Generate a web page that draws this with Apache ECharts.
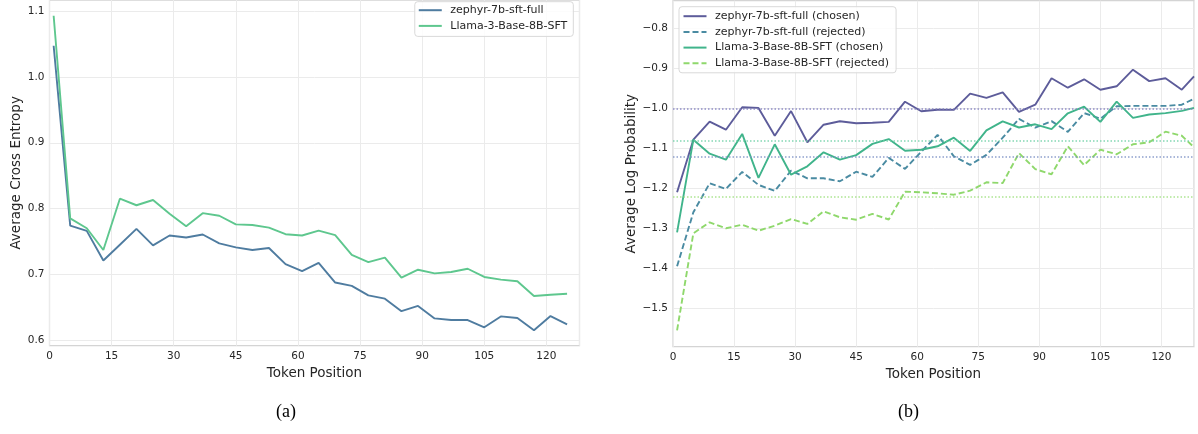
<!DOCTYPE html>
<html>
<head>
<meta charset="utf-8">
<script src="https://cdn.jsdelivr.net/npm/echarts@6/dist/echarts.min.js"></script>
<style>
html,body{margin:0;padding:0;background:#fff;}
#c{width:1198px;height:434px;}
</style>
</head>
<body>
<div id="c"></div>
<script>
// ---- data ----
const leftTokens = [1,5,9,13,17,21,25,29,33,37,41,45,49,53,57,61,65,69,73,77,81,85,89,93,97,101,105,109,113,117,121,125];
const zephyrCE = [1.0475,0.774,0.766,0.721,0.745,0.769,0.744,0.759,0.756,0.7605,0.747,0.741,0.737,0.740,0.7155,0.705,0.7175,0.6875,0.6825,0.668,0.663,0.644,0.652,0.633,0.6305,0.6305,0.6195,0.636,0.6335,0.615,0.6365,0.624];
const llamaCE = [1.093,0.785,0.770,0.737,0.815,0.805,0.813,0.792,0.773,0.793,0.789,0.776,0.775,0.771,0.761,0.759,0.7665,0.7595,0.7295,0.7185,0.7255,0.695,0.707,0.7015,0.7035,0.7085,0.696,0.692,0.6895,0.667,0.669,0.6705];

const rightTokens = [1,5,9,13,17,21,25,29,33,37,41,45,49,53,57,61,65,69,73,77,81,85,89,93,97,101,105,109,113,117,121,125,128];
const zephyrChosen = [-1.21,-1.0785,-1.0335,-1.0535,-0.9975,-0.999,-1.0685,-1.007,-1.085,-1.041,-1.0325,-1.0375,-1.036,-1.034,-0.9835,-1.0075,-1.0035,-1.004,-0.9635,-0.974,-0.96,-1.009,-0.991,-0.925,-0.9485,-0.9275,-0.9535,-0.945,-0.9035,-0.932,-0.925,-0.9535,-0.92];
const zephyrRejected = [-1.395,-1.26,-1.1875,-1.2015,-1.159,-1.1915,-1.2065,-1.156,-1.175,-1.175,-1.1825,-1.1585,-1.1715,-1.124,-1.1515,-1.1085,-1.0665,-1.12,-1.1415,-1.1165,-1.0735,-1.0265,-1.0485,-1.032,-1.059,-1.012,-1.026,-0.995,-0.994,-0.994,-0.994,-0.991,-0.976];
const llamaChosen = [-1.31,-1.0785,-1.1135,-1.1285,-1.064,-1.174,-1.09,-1.166,-1.145,-1.11,-1.1285,-1.117,-1.089,-1.077,-1.106,-1.1035,-1.095,-1.0735,-1.1065,-1.055,-1.0325,-1.048,-1.04,-1.052,-1.0125,-0.996,-1.034,-0.9835,-1.024,-1.0155,-1.012,-1.0065,-0.999];
const llamaRejected = [-1.555,-1.3125,-1.285,-1.30,-1.291,-1.306,-1.2935,-1.277,-1.289,-1.2575,-1.2725,-1.2785,-1.264,-1.278,-1.2085,-1.21,-1.2125,-1.216,-1.206,-1.185,-1.187,-1.112,-1.152,-1.165,-1.095,-1.142,-1.1035,-1.115,-1.09,-1.085,-1.0585,-1.0685,-1.0975];
// dotted reference (mean) lines
const meanZephyrChosen = -1.002;
const meanLlamaChosen = -1.0835;
const meanZephyrRejected = -1.117;
const meanLlamaRejected = -1.215;

const leftYTicks = [0.6,0.7,0.8,0.9,1.0,1.1];
const rightYTicks = [-1.5,-1.4,-1.3,-1.2,-1.1,-1.0,-0.9,-0.8];

const leftNames = ['zephyr-7b-sft-full','Llama-3-Base-8B-SFT'];
const rightNames = ['zephyr-7b-sft-full (chosen)','zephyr-7b-sft-full (rejected)','Llama-3-Base-8B-SFT (chosen)','Llama-3-Base-8B-SFT (rejected)'];

// ---- build ----
const FONT = 'DejaVu Sans';
const TXT = '#262626';
const pairs = (xs, ys) => xs.map((x,i)=>[x, ys[i]]);
const C = {
  zL:'#4f7ca0', lL:'#5ec78e',
  zc:'#5d5c9a', zr:'#4a8ba2', lc:'#40b48b', lr:'#8fd86c'
};
function refLine(v, color){
  return {silent:true, symbol:'none', label:{show:false}, emphasis:{disabled:true},
    lineStyle:{type:[1.5,2], width:1.5, color:color, opacity:0.85}, data:[{yAxis:v}]};
}
function xAxis(gi){
  return {gridIndex:gi, type:'value', min:0, max:128, interval:15,
    axisLine:{show:false}, axisTick:{show:false},
    axisLabel:{fontSize:10.5, fontFamily:FONT, color:TXT, margin:5, showMaxLabel:false},
    splitLine:{show:true, lineStyle:{color:'#ebebeb', width:1}},
    name:'Token Position', nameLocation:'middle', nameGap:17,
    nameTextStyle:{fontSize:13.5, fontFamily:FONT, color:TXT}};
}
function yAxis(gi, min, max, ticks, fmt, name){
  return {gridIndex:gi, type:'value', min:min, max:max,
    axisLine:{show:false},
    axisTick:{show:false, customValues:ticks},
    axisLabel:{customValues:ticks, formatter:fmt, fontSize:10.5, fontFamily:FONT, color:TXT, margin:5},
    splitLine:{show:true, lineStyle:{color:'#ebebeb', width:1}},
    name:name, nameLocation:'middle', nameGap:23,
    nameTextStyle:{fontSize:13.5, fontFamily:FONT, color:TXT}};
}
const legendBase = {orient:'vertical', itemWidth:23, itemHeight:11, itemGap:4.7,
  itemStyle:{opacity:0, borderWidth:0},
  backgroundColor:'rgba(255,255,255,0.85)', borderColor:'#d9d9d9', borderWidth:1, borderRadius:3,
  textStyle:{fontSize:11, fontFamily:FONT, color:TXT, padding:[0,0,0,3.5]}};

const option = {
  animation:false,
  backgroundColor:'#fff',
  grid:[
    {left:49.5, right:618.5, top:-4, bottom:88.3, show:true, borderColor:'#d4d4d4', borderWidth:1.25, backgroundColor:'transparent'},
    {left:673, right:4, top:0.7, bottom:87.3, show:true, borderColor:'#d4d4d4', borderWidth:1.25, backgroundColor:'transparent'}
  ],
  xAxis:[xAxis(0), xAxis(1)],
  yAxis:[
    yAxis(0, 0.5915, 1.117, leftYTicks, v=>v.toFixed(1), 'Average Cross Entropy'),
    yAxis(1, -1.596, -0.731, rightYTicks, v=>(v<0?'\u2212':'')+Math.abs(v).toFixed(1), 'Average Log Probability')
  ],
  legend:[
    Object.assign({}, legendBase, {data:leftNames, right:624.7, top:1.7, padding:[3,6,5,3]}),
    Object.assign({}, legendBase, {data:rightNames, left:679, top:6.7, padding:[4,7,4,3.5]})
  ],
  graphic:[
    {type:'text', left:288-12, top:403, style:{text:'(a)', font:'18px "Liberation Serif"', fill:'#000'}},
    {type:'text', left:910-12, top:403, style:{text:'(b)', font:'18px "Liberation Serif"', fill:'#000'}}
  ],
  series:[
    {name:leftNames[0], type:'line', xAxisIndex:0, yAxisIndex:0, symbol:'none', data:pairs(leftTokens, zephyrCE),
      lineStyle:{color:C.zL, width:1.9}, itemStyle:{color:C.zL}},
    {name:leftNames[1], type:'line', xAxisIndex:0, yAxisIndex:0, symbol:'none', data:pairs(leftTokens, llamaCE),
      lineStyle:{color:C.lL, width:1.9}, itemStyle:{color:C.lL}},
    {name:rightNames[0], type:'line', xAxisIndex:1, yAxisIndex:1, symbol:'none', data:pairs(rightTokens, zephyrChosen),
      lineStyle:{color:C.zc, width:1.9}, itemStyle:{color:C.zc}, markLine:refLine(meanZephyrChosen, '#7f7cc0')},
    {name:rightNames[1], type:'line', xAxisIndex:1, yAxisIndex:1, symbol:'none', data:pairs(rightTokens, zephyrRejected),
      lineStyle:{color:C.zr, width:1.9, type:[6,3]}, itemStyle:{color:C.zr}, markLine:refLine(meanZephyrRejected, '#7a8fc4')},
    {name:rightNames[2], type:'line', xAxisIndex:1, yAxisIndex:1, symbol:'none', data:pairs(rightTokens, llamaChosen),
      lineStyle:{color:C.lc, width:1.9}, itemStyle:{color:C.lc}, markLine:refLine(meanLlamaChosen, '#6fd0a6')},
    {name:rightNames[3], type:'line', xAxisIndex:1, yAxisIndex:1, symbol:'none', data:pairs(rightTokens, llamaRejected),
      lineStyle:{color:C.lr, width:1.9, type:[6,3]}, itemStyle:{color:C.lr}, markLine:refLine(meanLlamaRejected, '#9fe07f')}
  ]
};
const chart = echarts.init(document.getElementById('c'), null, {renderer:'canvas'});
chart.setOption(option);
</script>
</body>
</html>
